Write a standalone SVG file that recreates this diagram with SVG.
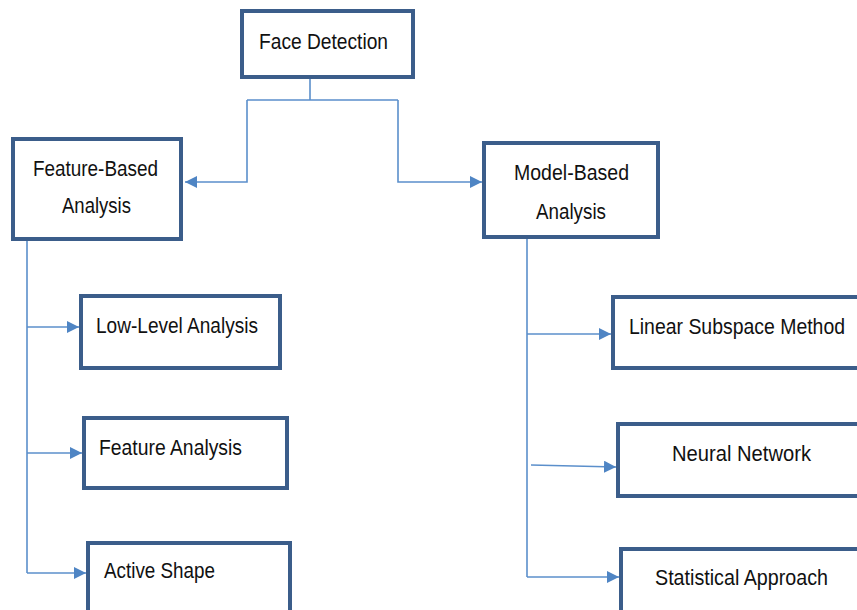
<svg xmlns="http://www.w3.org/2000/svg" width="857" height="610" viewBox="0 0 857 610">
<defs>
<style>
.box{fill:#fff;stroke:#3b5d8a;stroke-width:4}
.t{font-family:"Liberation Sans",Arial,sans-serif;font-size:22px;fill:#111}
.c{fill:none;stroke:#5b8fcb;stroke-width:1.6}
</style>
<marker id="ah" viewBox="0 0 10 10" refX="10" refY="5" markerWidth="12" markerHeight="12" markerUnits="userSpaceOnUse" orient="auto">
<path d="M0,0 L10,5 L0,10 z" fill="#4f85c4"/>
</marker>
</defs>
<rect width="857" height="610" fill="#fff"/>
<g id="connectors">
<path class="c" d="M310,78 V100 M247,100 H398 M247,100 V182 H185" marker-end="url(#ah)"/>
<path class="c" d="M398,100 V182 H482" marker-end="url(#ah)"/>
<path class="c" d="M27,240 V573"/>
<path class="c" d="M27,327 H79" marker-end="url(#ah)"/>
<path class="c" d="M27,453 H82" marker-end="url(#ah)"/>
<path class="c" d="M27,573 H86" marker-end="url(#ah)"/>
<path class="c" d="M527,238 V577"/>
<path class="c" d="M527,334 H611" marker-end="url(#ah)"/>
<path class="c" d="M531,465 L616,467" marker-end="url(#ah)"/>
<path class="c" d="M527,577 H619" marker-end="url(#ah)"/>
</g>
<g id="face-detection">
<rect class="box" x="242" y="11" width="171" height="66"/>
<text class="t" x="259" y="49" textLength="129" lengthAdjust="spacingAndGlyphs">Face Detection</text>
</g>
<g id="feature-based">
<rect class="box" x="13" y="139" width="168" height="100"/>
<text class="t" x="33" y="176" textLength="125" lengthAdjust="spacingAndGlyphs">Feature-Based</text>
<text class="t" x="62" y="213" textLength="69" lengthAdjust="spacingAndGlyphs">Analysis</text>
</g>
<g id="model-based">
<rect class="box" x="484" y="143" width="174" height="94"/>
<text class="t" x="514" y="180" textLength="115" lengthAdjust="spacingAndGlyphs">Model-Based</text>
<text class="t" x="536" y="219" textLength="70" lengthAdjust="spacingAndGlyphs">Analysis</text>
</g>
<g id="low-level">
<rect class="box" x="81" y="296" width="199" height="72"/>
<text class="t" x="96" y="333" textLength="162" lengthAdjust="spacingAndGlyphs">Low-Level Analysis</text>
</g>
<g id="feature-analysis">
<rect class="box" x="84" y="418" width="203" height="70"/>
<text class="t" x="99" y="455" textLength="143" lengthAdjust="spacingAndGlyphs">Feature Analysis</text>
</g>
<g id="active-shape">
<rect class="box" x="88" y="543" width="202" height="80"/>
<text class="t" x="104" y="578" textLength="111" lengthAdjust="spacingAndGlyphs">Active Shape</text>
</g>
<g id="linear-subspace">
<rect class="box" x="613" y="297" width="260" height="71"/>
<text class="t" x="629" y="334" textLength="216" lengthAdjust="spacingAndGlyphs">Linear Subspace Method</text>
</g>
<g id="neural-network">
<rect class="box" x="618" y="424" width="260" height="72"/>
<text class="t" x="672" y="461" textLength="139" lengthAdjust="spacingAndGlyphs">Neural Network</text>
</g>
<g id="statistical">
<rect class="box" x="621" y="549" width="260" height="80"/>
<text class="t" x="655" y="585" textLength="173" lengthAdjust="spacingAndGlyphs">Statistical Approach</text>
</g>
</svg>
